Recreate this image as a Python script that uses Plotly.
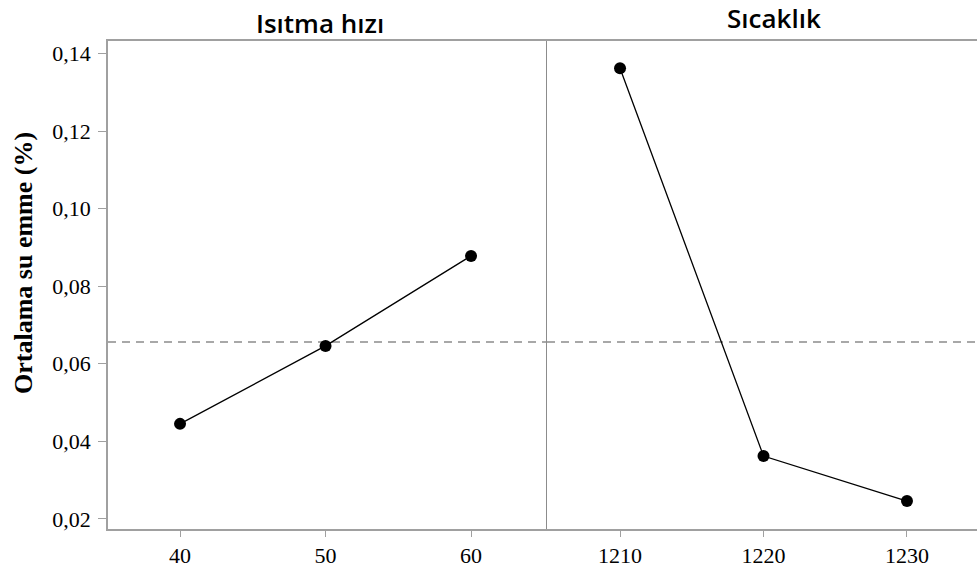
import plotly.graph_objects as go
from plotly.subplots import make_subplots

heat_rate = [40, 50, 60]
heat_rate_mean = [0.0445, 0.0646, 0.0878]
temperature = [1210, 1220, 1230]
temperature_mean = [0.1362, 0.0362, 0.0246]
grand_mean = 0.0656
y_ticks = [0.02, 0.04, 0.06, 0.08, 0.10, 0.12, 0.14]
y_tick_text = ["0,02", "0,04", "0,06", "0,08", "0,10", "0,12", "0,14"]
panel_titles = ["Isıtma hızı", "Sıcaklık"]
y_title = "Ortalama su emme (%)"

W, H = 977, 574
L, R, T, B = 108, 0, 41, 45
split = (547 - L) / (W - L - R)

fig = make_subplots(rows=1, cols=2, shared_yaxes=True, horizontal_spacing=0)
fig.layout.xaxis.domain = [0, split]
fig.layout.xaxis2.domain = [split, 1]

line_style = dict(color="black", width=1.3)
marker_style = dict(color="black", size=12)
fig.add_trace(go.Scatter(x=heat_rate, y=heat_rate_mean, mode="lines+markers",
                         line=line_style, marker=marker_style, showlegend=False), 1, 1)
fig.add_trace(go.Scatter(x=temperature, y=temperature_mean, mode="lines+markers",
                         line=line_style, marker=marker_style, showlegend=False), 1, 2)

for xref in ["x", "x2"]:
    fig.add_shape(type="line", xref=f"{xref} domain", yref="y", x0=0, x1=1,
                  y0=grand_mean, y1=grand_mean,
                  line=dict(color="#a8a8a8", width=2, dash="8px,6px"), layer="below")

axcol = "#a0a0a0"
tickfont = dict(family="Liberation Serif, Times New Roman, serif", size=22, color="black")
fig.update_xaxes(row=1, col=1, range=[35.05, 65.22], tickvals=heat_rate,
                 ticktext=[str(v) for v in heat_rate])
fig.update_xaxes(row=1, col=2, range=[1204.91, 1234.88], tickvals=temperature,
                 ticktext=[str(v) for v in temperature])
fig.update_xaxes(showline=True, linecolor=axcol, linewidth=1.5, mirror=True,
                 ticks="outside", ticklen=6, tickcolor=axcol, tickwidth=1,
                 showgrid=False, zeroline=False, tickfont=tickfont)
fig.update_yaxes(range=[0.0174, 0.1432], showgrid=False, zeroline=False, mirror=False)
fig.update_yaxes(row=1, col=1, tickvals=y_ticks, ticktext=y_tick_text,
                 showline=True, linecolor=axcol, linewidth=1.5, side="left",
                 ticks="outside", ticklen=8, tickcolor=axcol, tickwidth=1,
                 tickfont=tickfont, ticklabelstandoff=3)
fig.update_yaxes(row=1, col=2, showline=True, linecolor="#8c8c8c", linewidth=1.2,
                 side="left", ticks="", showticklabels=False)

title_font = dict(family="Open Sans, Noto Sans, sans-serif", size=26, color="black", weight=600)
fig.add_annotation(text=panel_titles[0], x=(320 - L) / (W - L - R), y=(H - 23 - B) / (H - T - B),
                   xref="paper", yref="paper", showarrow=False, font=title_font,
                   xanchor="center", yanchor="middle")
fig.add_annotation(text=panel_titles[1], x=(774 - L) / (W - L - R), y=(H - 18 - B) / (H - T - B),
                   xref="paper", yref="paper", showarrow=False, font=title_font,
                   xanchor="center", yanchor="middle")
fig.add_annotation(text=f"<b>{y_title}</b>", textangle=-90,
                   x=(23 - L) / (W - L - R), y=(H - 263 - B) / (H - T - B),
                   xref="paper", yref="paper", showarrow=False,
                   font=dict(family="Liberation Serif, Times New Roman, serif", size=26, color="black"),
                   xanchor="center", yanchor="middle")

fig.update_layout(width=W, height=H, margin=dict(l=L, r=R, t=T, b=B),
                  paper_bgcolor="white", plot_bgcolor="white")
fig.write_html("out.html")
